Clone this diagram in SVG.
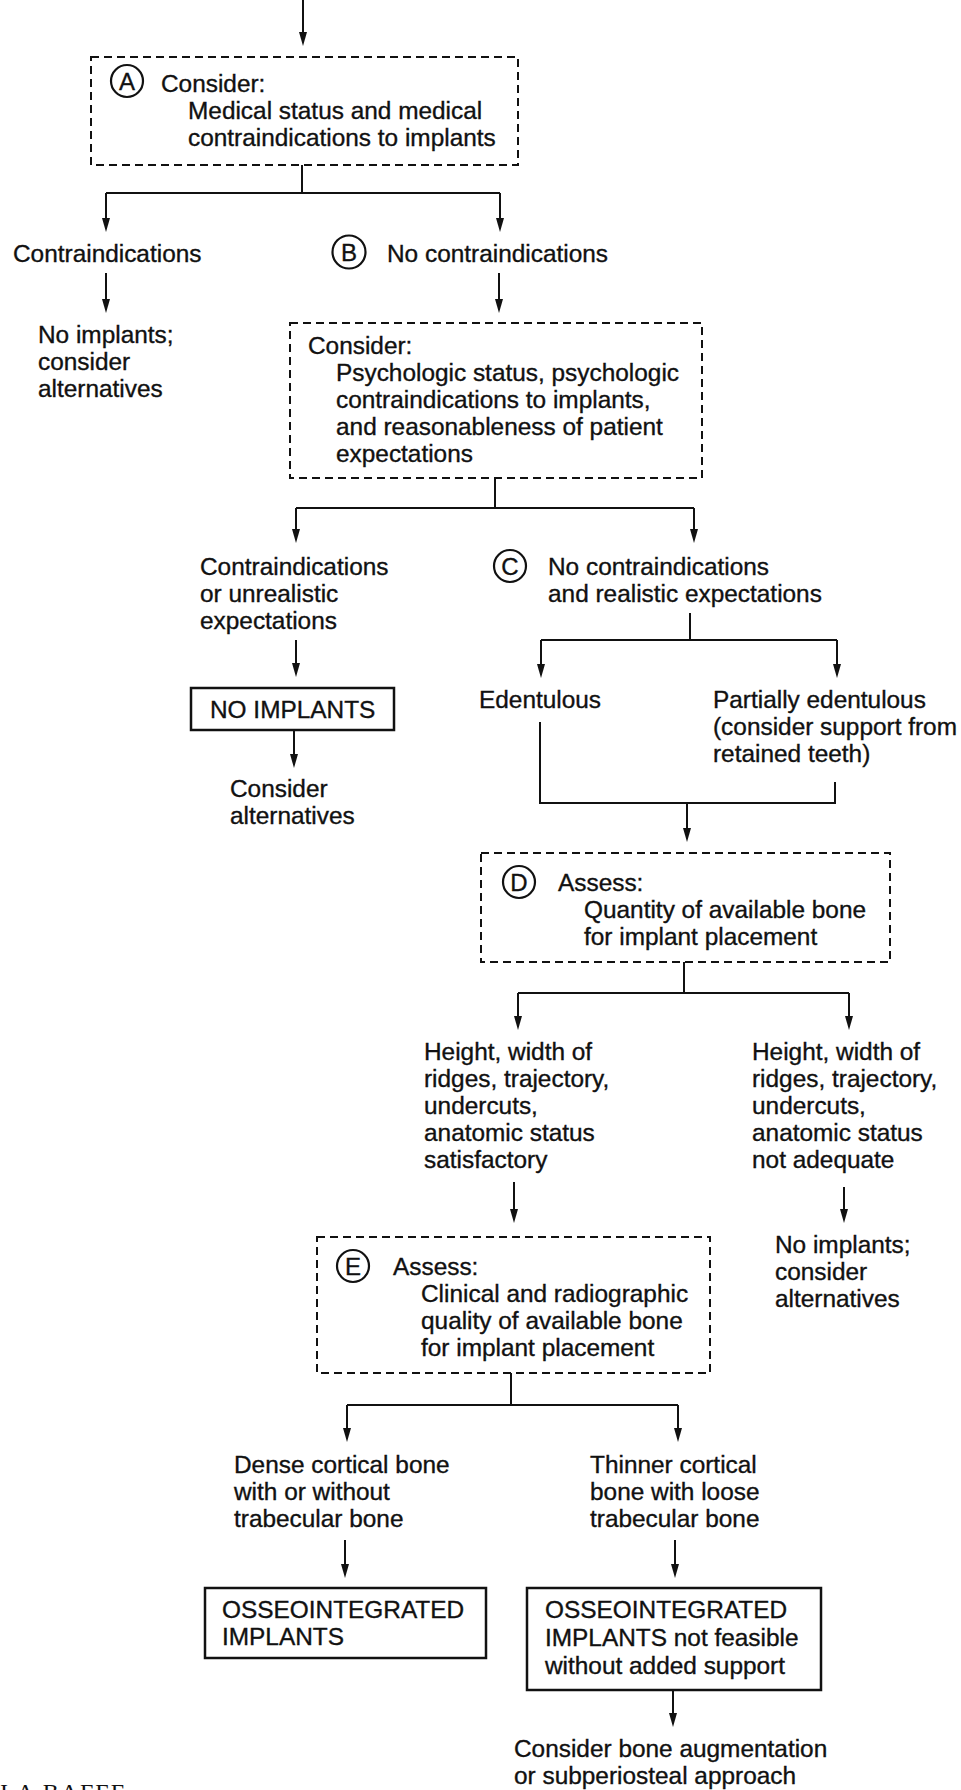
<svg xmlns="http://www.w3.org/2000/svg" width="961" height="1790" viewBox="0 0 961 1790">
  <defs>
    <style>
      text { font-family: "Liberation Sans", Arial, sans-serif; font-size: 24.4px; fill: #111; stroke: #111; stroke-width: 0.35px; }
      .tag { font-size: 24px; text-anchor: middle; }
      .serif { font-family: "Liberation Serif", "Times New Roman", serif; font-size: 24px; letter-spacing: 2px; stroke: none; }
      .dash { fill: none; stroke: #111; stroke-width: 2; stroke-dasharray: 8 5; }
      .solid { fill: #fff; stroke: #111; stroke-width: 2.5; }
      .ring { fill: none; stroke: #111; stroke-width: 2.2; }
      .wire { fill: none; stroke: #111; stroke-width: 2; }
      .arr { fill: none; stroke: #111; stroke-width: 2; }
      .head { fill: #111; }
    </style>
  </defs>
  <rect width="961" height="1790" fill="#fff"/>

  <!-- connector lines and their arrowheads -->
  <g id="connectors">
    <path class="arr" d="M303,0 V34"/>
    <path class="wire" d="M302,165 V193 M106,193 H500"/>
    <path class="arr" d="M106,193 V220"/>
    <path class="arr" d="M500,193 V220"/>
    <path class="arr" d="M106,273 V301"/>
    <path class="arr" d="M499,273 V301"/>
    <path class="wire" d="M495,478 V508 M296,508 H694"/>
    <path class="arr" d="M296,508 V531"/>
    <path class="arr" d="M694,508 V531"/>
    <path class="arr" d="M296,640 V665"/>
    <path class="arr" d="M294,730 V756"/>
    <path class="wire" d="M690,613 V640 M541,640 H837"/>
    <path class="arr" d="M541,640 V666"/>
    <path class="arr" d="M837,640 V666"/>
    <path class="wire" d="M540,722 V803 H835 V782"/>
    <path class="arr" d="M687,803 V830"/>
    <path class="wire" d="M684,962 V993 M518,993 H849"/>
    <path class="arr" d="M518,993 V1018"/>
    <path class="arr" d="M849,993 V1018"/>
    <path class="arr" d="M514,1182 V1211"/>
    <path class="arr" d="M844,1187 V1211"/>
    <path class="wire" d="M511,1373 V1405 M347,1405 H678"/>
    <path class="arr" d="M347,1405 V1430"/>
    <path class="arr" d="M678,1405 V1430"/>
    <path class="arr" d="M345,1540 V1566"/>
    <path class="arr" d="M675,1540 V1566"/>
    <path class="arr" d="M673,1690 V1715"/>

    <g class="head">
      <path d="M299,32 L307,32 L303,46 Z"/>
      <path d="M102,218 L110,218 L106,232 Z"/>
      <path d="M496,218 L504,218 L500,232 Z"/>
      <path d="M102,299 L110,299 L106,313 Z"/>
      <path d="M495,299 L503,299 L499,313 Z"/>
      <path d="M292,529 L300,529 L296,543 Z"/>
      <path d="M690,529 L698,529 L694,543 Z"/>
      <path d="M292,663 L300,663 L296,677 Z"/>
      <path d="M290,754 L298,754 L294,768 Z"/>
      <path d="M537,664 L545,664 L541,678 Z"/>
      <path d="M833,664 L841,664 L837,678 Z"/>
      <path d="M683,828 L691,828 L687,842 Z"/>
      <path d="M514,1016 L522,1016 L518,1030 Z"/>
      <path d="M845,1016 L853,1016 L849,1030 Z"/>
      <path d="M510,1209 L518,1209 L514,1223 Z"/>
      <path d="M840,1209 L848,1209 L844,1223 Z"/>
      <path d="M343,1428 L351,1428 L347,1442 Z"/>
      <path d="M674,1428 L682,1428 L678,1442 Z"/>
      <path d="M341,1564 L349,1564 L345,1578 Z"/>
      <path d="M671,1564 L679,1564 L675,1578 Z"/>
      <path d="M669,1713 L677,1713 L673,1727 Z"/>
    </g>
  </g>

  <!-- A: medical status -->
  <g id="nodeA">
    <rect class="dash" x="91" y="57" width="427" height="108"/>
    <circle class="ring" cx="127" cy="81" r="16"/>
    <text class="tag" x="127" y="89.6">A</text>
    <text x="161" y="92">Consider:</text>
    <text x="188" y="119">Medical status and medical</text>
    <text x="188" y="146">contraindications to implants</text>
  </g>

  <g id="medContra">
    <text x="13" y="262">Contraindications</text>
  </g>

  <g id="nodeB">
    <circle class="ring" cx="349" cy="252" r="16.5"/>
    <text class="tag" x="349" y="260.6">B</text>
    <text x="387" y="262">No contraindications</text>
  </g>

  <g id="noImplants1">
    <text x="38" y="343">No implants;</text>
    <text x="38" y="370">consider</text>
    <text x="38" y="397">alternatives</text>
  </g>

  <!-- psychologic status -->
  <g id="psych">
    <rect class="dash" x="290" y="323" width="412" height="155"/>
    <text x="308" y="354">Consider:</text>
    <text x="336" y="381">Psychologic status, psychologic</text>
    <text x="336" y="408">contraindications to implants,</text>
    <text x="336" y="435">and reasonableness of patient</text>
    <text x="336" y="462">expectations</text>
  </g>

  <g id="psychContra">
    <text x="200" y="575">Contraindications</text>
    <text x="200" y="602">or unrealistic</text>
    <text x="200" y="629">expectations</text>
  </g>

  <g id="nodeC">
    <circle class="ring" cx="510" cy="566" r="16"/>
    <text class="tag" x="510" y="574.6">C</text>
    <text x="548" y="575">No contraindications</text>
    <text x="548" y="602">and realistic expectations</text>
  </g>

  <g id="noImplantsBox">
    <rect class="solid" x="191" y="688" width="203" height="42"/>
    <text x="210" y="718">NO IMPLANTS</text>
  </g>

  <g id="altConsider">
    <text x="230" y="797">Consider</text>
    <text x="230" y="824">alternatives</text>
  </g>

  <g id="edentulous">
    <text x="479" y="708">Edentulous</text>
  </g>

  <g id="partial">
    <text x="713" y="708">Partially edentulous</text>
    <text x="713" y="735">(consider support from</text>
    <text x="713" y="762">retained teeth)</text>
  </g>

  <!-- D: bone quantity -->
  <g id="nodeD">
    <rect class="dash" x="481" y="853" width="409" height="109"/>
    <circle class="ring" cx="519" cy="882" r="16"/>
    <text class="tag" x="519" y="890.6">D</text>
    <text x="558" y="891">Assess:</text>
    <text x="584" y="918">Quantity of available bone</text>
    <text x="584" y="945">for implant placement</text>
  </g>

  <g id="ridgeOk">
    <text x="424" y="1060">Height, width of</text>
    <text x="424" y="1087">ridges, trajectory,</text>
    <text x="424" y="1114">undercuts,</text>
    <text x="424" y="1141">anatomic status</text>
    <text x="424" y="1168">satisfactory</text>
  </g>

  <g id="ridgeBad">
    <text x="752" y="1060">Height, width of</text>
    <text x="752" y="1087">ridges, trajectory,</text>
    <text x="752" y="1114">undercuts,</text>
    <text x="752" y="1141">anatomic status</text>
    <text x="752" y="1168">not adequate</text>
  </g>

  <g id="noImplants2">
    <text x="775" y="1253">No implants;</text>
    <text x="775" y="1280">consider</text>
    <text x="775" y="1307">alternatives</text>
  </g>

  <!-- E: bone quality -->
  <g id="nodeE">
    <rect class="dash" x="317" y="1237" width="393" height="136"/>
    <circle class="ring" cx="353" cy="1266" r="16"/>
    <text class="tag" x="353" y="1274.6">E</text>
    <text x="393" y="1275">Assess:</text>
    <text x="421" y="1302">Clinical and radiographic</text>
    <text x="421" y="1329">quality of available bone</text>
    <text x="421" y="1356">for implant placement</text>
  </g>

  <g id="dense">
    <text x="234" y="1473">Dense cortical bone</text>
    <text x="234" y="1500">with or without</text>
    <text x="234" y="1527">trabecular bone</text>
  </g>

  <g id="thin">
    <text x="590" y="1473">Thinner cortical</text>
    <text x="590" y="1500">bone with loose</text>
    <text x="590" y="1527">trabecular bone</text>
  </g>

  <g id="osseo">
    <rect class="solid" x="205" y="1588" width="281" height="70"/>
    <text x="222" y="1618">OSSEOINTEGRATED</text>
    <text x="222" y="1645">IMPLANTS</text>
  </g>

  <g id="osseoSupport">
    <rect class="solid" x="527" y="1588" width="294" height="102"/>
    <text x="545" y="1618">OSSEOINTEGRATED</text>
    <text x="545" y="1646">IMPLANTS not feasible</text>
    <text x="545" y="1674">without added support</text>
  </g>

  <g id="augment">
    <text x="514" y="1757">Consider bone augmentation</text>
    <text x="514" y="1784">or subperiosteal approach</text>
  </g>

  <!-- running footer, clipped by the page edge -->
  <text class="serif" x="0" y="1800">I A BAFFE</text>
</svg>
